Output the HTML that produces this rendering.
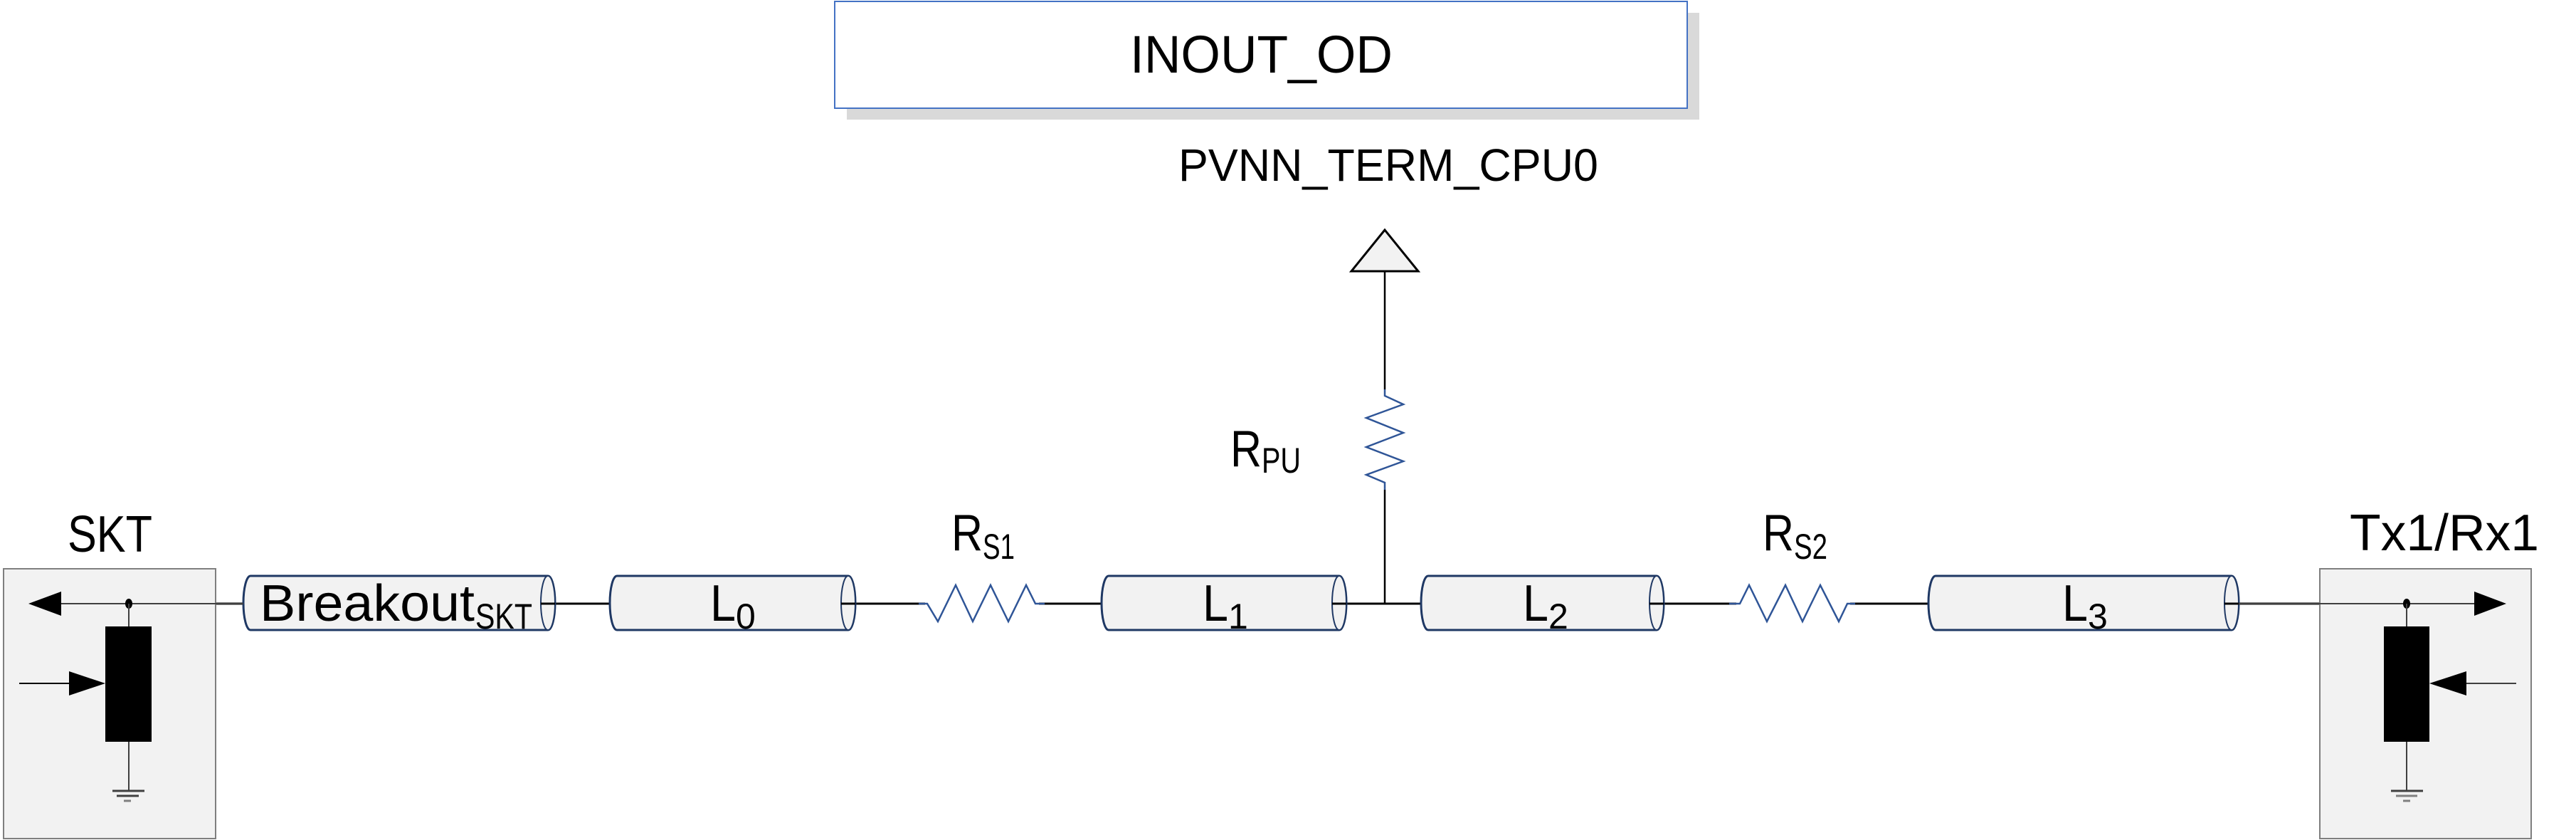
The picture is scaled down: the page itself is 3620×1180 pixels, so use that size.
<!DOCTYPE html>
<html><head><meta charset="utf-8"><style>
html,body{margin:0;padding:0;background:#fff;}
svg{display:block;}
text{font-family:"Liberation Sans",sans-serif;fill:#000;}
</style></head><body>
<svg width="3620" height="1180" viewBox="0 0 3620 1180" xmlns="http://www.w3.org/2000/svg">
<defs>
<g id="cylL">
</g>
</defs>
<!-- INOUT_OD box -->
<rect x="1190" y="18" width="1198" height="150" fill="#d9d9d9"/>
<rect x="1173" y="2" width="1198" height="150" fill="#fff" stroke="#4472c4" stroke-width="2"/>
<text x="1588" y="102" font-size="74" textLength="369" lengthAdjust="spacingAndGlyphs">INOUT_OD</text>
<text x="1656" y="254" font-size="64" textLength="590" lengthAdjust="spacingAndGlyphs">PVNN_TERM_CPU0</text>

<!-- pull-up -->
<polygon points="1946,323 1899,381 1993,381" fill="#f2f2f2" stroke="#000" stroke-width="3"/>
<line x1="1946" y1="381" x2="1946" y2="547" stroke="#000" stroke-width="2.5"/>
<polyline points="1946,547 1946,556 1972,568 1920,587 1972,608 1920,628 1972,648 1920,667 1946,678 1946,688" fill="none" stroke="#2f5597" stroke-width="2.5"/>
<line x1="1946" y1="688" x2="1946" y2="848" stroke="#000" stroke-width="2.5"/>
<text x="1729" y="655" font-size="72" textLength="44" lengthAdjust="spacingAndGlyphs">R</text>
<text x="1773" y="664" font-size="50" textLength="55" lengthAdjust="spacingAndGlyphs">PU</text>

<!-- main wire -->
<line x1="86" y1="848" x2="3480" y2="848" stroke="#000" stroke-width="3"/>

<!-- resistors (white background to cover wire) -->
<rect x="1300" y="815" width="160" height="66" fill="#fff"/>
<polyline points="1291,848 1303,848 1318,873 1343,822 1367,873 1392,822 1417,873 1442,822 1455,848 1468,848" fill="none" stroke="#2f5597" stroke-width="2.5"/>
<rect x="2440" y="815" width="160" height="66" fill="#fff"/>
<polyline points="2430,848 2445,848 2458,822 2483,873 2509,822 2533,873 2558,822 2584,873 2596,848 2607,848" fill="none" stroke="#2f5597" stroke-width="2.5"/>
<text x="1337" y="773" font-size="72" textLength="44" lengthAdjust="spacingAndGlyphs">R</text>
<text x="1381" y="785" font-size="50" textLength="45" lengthAdjust="spacingAndGlyphs">S1</text>
<text x="2477" y="773" font-size="72" textLength="44" lengthAdjust="spacingAndGlyphs">R</text>
<text x="2521" y="785" font-size="50" textLength="47" lengthAdjust="spacingAndGlyphs">S2</text>

<!-- cylinders -->
<g fill="#f2f2f2" stroke="#1f3864" stroke-width="3">
  <path d="M352,809 L770,809 A10,38 0 0 1 770,885 L352,885 A10,38 0 0 1 352,809 Z"/>
  <ellipse cx="770" cy="847" rx="10" ry="38" stroke-width="2"/>
  <path d="M867,809 L1192,809 A10,38 0 0 1 1192,885 L867,885 A10,38 0 0 1 867,809 Z"/>
  <ellipse cx="1192" cy="847" rx="10" ry="38" stroke-width="2"/>
  <path d="M1558,809 L1882,809 A10,38 0 0 1 1882,885 L1558,885 A10,38 0 0 1 1558,809 Z"/>
  <ellipse cx="1882" cy="847" rx="10" ry="38" stroke-width="2"/>
  <path d="M2007,809 L2328,809 A10,38 0 0 1 2328,885 L2007,885 A10,38 0 0 1 2007,809 Z"/>
  <ellipse cx="2328" cy="847" rx="10" ry="38" stroke-width="2"/>
  <path d="M2720,809 L3136,809 A10,38 0 0 1 3136,885 L2720,885 A10,38 0 0 1 2720,809 Z"/>
  <ellipse cx="3136" cy="847" rx="10" ry="38" stroke-width="2"/>
</g>
<g stroke="#000" stroke-width="3">
  <line x1="760" y1="848" x2="780" y2="848"/>
  <line x1="1182" y1="848" x2="1202" y2="848"/>
  <line x1="1872" y1="848" x2="1892" y2="848"/>
  <line x1="2318" y1="848" x2="2338" y2="848"/>
  <line x1="3126" y1="848" x2="3146" y2="848"/>
</g>
<text x="365" y="872" font-size="72" textLength="302" lengthAdjust="spacingAndGlyphs">Breakout</text>
<text x="668" y="883" font-size="50" textLength="80" lengthAdjust="spacingAndGlyphs">SKT</text>
<text x="998" y="872" font-size="72" textLength="36" lengthAdjust="spacingAndGlyphs">L</text>
<text x="1034" y="883" font-size="50" textLength="22">0</text>
<text x="1690" y="872" font-size="72" textLength="36" lengthAdjust="spacingAndGlyphs">L</text>
<text x="1726" y="883" font-size="50" textLength="22">1</text>
<text x="2140" y="872" font-size="72" textLength="36" lengthAdjust="spacingAndGlyphs">L</text>
<text x="2176" y="883" font-size="50" textLength="22">2</text>
<text x="2898" y="872" font-size="72" textLength="36" lengthAdjust="spacingAndGlyphs">L</text>
<text x="2934" y="883" font-size="50" textLength="22">3</text>

<!-- SKT box -->
<text x="95" y="775" font-size="72" textLength="119" lengthAdjust="spacingAndGlyphs">SKT</text>
<rect x="5" y="799" width="298" height="379" fill="#f2f2f2" stroke="#7f7f7f" stroke-width="2"/>
<line x1="86" y1="848" x2="342" y2="848" stroke="#404040" stroke-width="2"/>
<polygon points="40,848 86,831 86,865" fill="#000"/>
<ellipse cx="181" cy="848" rx="5" ry="7" fill="#000"/>
<line x1="181" y1="848" x2="181" y2="880" stroke="#404040" stroke-width="2"/>
<rect x="148" y="880" width="65" height="162" fill="#000"/>
<line x1="27" y1="960" x2="97" y2="960" stroke="#000" stroke-width="2"/>
<polygon points="148,960 97,943 97,977" fill="#000"/>
<line x1="181" y1="1042" x2="181" y2="1111" stroke="#404040" stroke-width="2"/>
<line x1="158" y1="1111" x2="203" y2="1111" stroke="#404040" stroke-width="3"/>
<line x1="164" y1="1118" x2="195" y2="1118" stroke="#404040" stroke-width="3"/>
<line x1="174" y1="1125" x2="184" y2="1125" stroke="#808080" stroke-width="3"/>

<!-- Tx1/Rx1 box -->
<text x="3302" y="773" font-size="72" textLength="266" lengthAdjust="spacingAndGlyphs">Tx1/Rx1</text>
<rect x="3260" y="799" width="297" height="379" fill="#f2f2f2" stroke="#7f7f7f" stroke-width="2"/>
<line x1="3146" y1="848" x2="3480" y2="848" stroke="#404040" stroke-width="2"/>
<polygon points="3522,848 3477,831 3477,865" fill="#000"/>
<ellipse cx="3382" cy="848" rx="5" ry="7" fill="#000"/>
<line x1="3382" y1="848" x2="3382" y2="880" stroke="#404040" stroke-width="2"/>
<rect x="3350" y="880" width="64" height="162" fill="#000"/>
<line x1="3466" y1="960" x2="3536" y2="960" stroke="#404040" stroke-width="2"/>
<polygon points="3414,960 3466,943 3466,977" fill="#000"/>
<line x1="3382" y1="1042" x2="3382" y2="1111" stroke="#404040" stroke-width="2"/>
<line x1="3360" y1="1111" x2="3405" y2="1111" stroke="#404040" stroke-width="3"/>
<line x1="3367" y1="1118" x2="3397" y2="1118" stroke="#808080" stroke-width="3"/>
<line x1="3377" y1="1125" x2="3387" y2="1125" stroke="#808080" stroke-width="3"/>
</svg>
</body></html>
